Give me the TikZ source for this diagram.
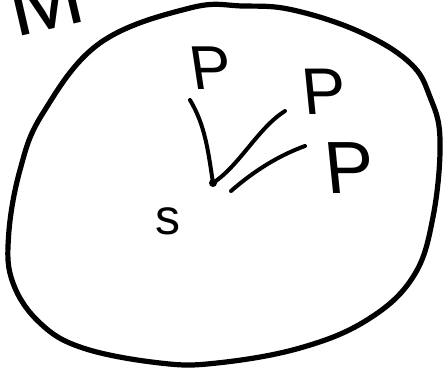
\documentclass[tikz,border=0pt]{standalone}
\usepackage{fontspec}
\setmainfont{Liberation Sans}
\begin{document}
\begin{tikzpicture}[x=1pt,y=-1pt,
  stroke/.style={line width=4pt,line cap=round,line join=round},
  blob/.style={line width=5.2pt,line join=round},
  lbl/.style={inner sep=0pt,outer sep=0pt}]
\useasboundingbox (0,0) rectangle (446,368);
\clip (0,0) rectangle (446,368);
% partial M at the top left
\node[lbl,anchor=south west,rotate=13,font=\fontsize{90}{90}\selectfont] (M) at (15,37) {M};
% the region
\draw[blob] plot[smooth cycle,tension=0.65] coordinates {
 (100,43) (190,8) (243,6) (293,10) (360,32) (410,63) (430,97) (440,140)
 (433,217) (413,277) (367,320) (300,348) (217,363) (160,363) (83,348)
 (40,323) (13,283) (8.5,237) (20,170) (43,113)};
% point s
\coordinate (s) at (213,183);
\fill (s) circle (4pt);
\node[lbl,font=\fontsize{50}{50}\selectfont] (slabel) at (168,221) {s};
% labels P
\node[lbl,xslant=-0.15,font=\fontsize{62}{62}\selectfont] (P1) at (211,68) {P};
\node[lbl,xslant=-0.1,font=\fontsize{66}{66}\selectfont] (P2) at (324,92) {P};
\node[lbl,xslant=-0.1,font=\fontsize{74}{74}\selectfont] (P3) at (350,168) {P};
% free ends of the strokes
\coordinate (e1) at (190,100);
\coordinate (e2) at (285,111);
\coordinate (b3) at (231,191);
\coordinate (e3) at (305,146);
\draw[stroke] (s) .. controls (208,150) and (205,125) .. (e1);
\draw[stroke] (s) .. controls (240,165) and (258,128) .. (e2);
\draw[stroke] (b3) .. controls (255,170) and (280,155) .. (e3);
\end{tikzpicture}
\end{document}
